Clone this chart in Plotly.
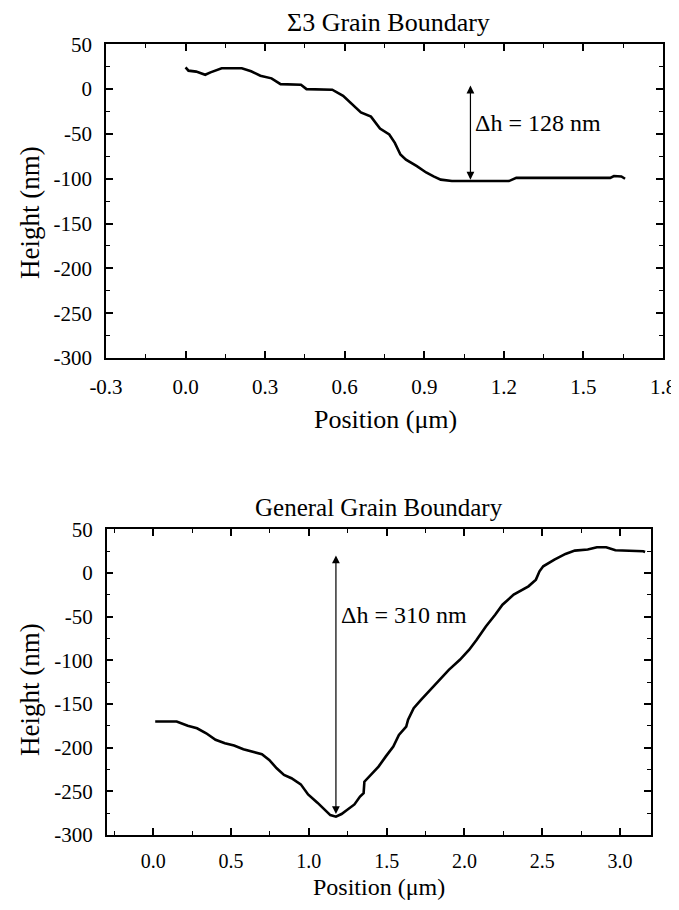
import plotly.graph_objects as go

# ---- Data: Sigma3 grain boundary profile ----
s3_pos = [0.000, 0.011, 0.040, 0.074, 0.094, 0.136, 0.212, 0.247, 0.282, 0.324,
          0.358, 0.435, 0.456, 0.553, 0.594, 0.636, 0.661, 0.699, 0.733, 0.768,
          0.789, 0.810, 0.831, 0.872, 0.907, 0.935, 0.962, 1.004, 1.219, 1.247,
          1.601, 1.615, 1.643, 1.657]
s3_height = [24.3, 20.6, 19.5, 16.0, 18.7, 23.2, 23.2, 19.9, 15.0, 12.0,
             5.6, 4.9, 0.0, -0.7, -7.5, -18.7, -26.0, -30.7, -44.0, -50.6,
             -60.0, -73.0, -78.7, -86.0, -93.0, -97.4, -101.0, -102.6, -102.6, -99.0,
             -99.0, -97.0, -97.4, -100.0]

# ---- Data: general grain boundary profile ----
gen_pos = [0.012, 0.150, 0.221, 0.281, 0.340, 0.400, 0.460, 0.519, 0.579, 0.650,
           0.698, 0.745, 0.793, 0.840, 0.888, 0.948, 0.995, 1.055, 1.102, 1.138,
           1.174, 1.210, 1.245, 1.293, 1.329, 1.352, 1.357, 1.400, 1.448, 1.495,
           1.543, 1.579, 1.626, 1.638, 1.674, 1.721, 1.793, 1.840, 1.900, 1.971,
           2.031, 2.079, 2.138, 2.198, 2.245, 2.317, 2.412, 2.460, 2.483, 2.507,
           2.579, 2.650, 2.710, 2.793, 2.852, 2.912, 2.971, 3.150, 3.162]
gen_height = [-170.1, -170.0, -175.0, -177.8, -183.5, -191.0, -195.0, -197.6, -201.9, -205.7,
              -207.6, -214.0, -223.6, -231.3, -235.0, -242.0, -253.5, -263.0, -270.7, -277.2,
              -279.0, -276.0, -271.4, -265.0, -256.0, -252.0, -239.0, -231.0, -221.7, -210.0,
              -198.8, -185.4, -175.9, -168.0, -154.8, -145.3, -131.9, -122.3, -110.9, -99.4,
              -87.9, -76.5, -61.2, -47.8, -36.3, -24.8, -15.3, -7.6, 1.9, 7.6,
              15.3, 21.8, 25.6, 26.8, 29.4, 29.4, 26.0, 24.9, 24.1]

# tick labels
y_tickvals = [50, 0, -50, -100, -150, -200, -250, -300]
y_ticktext = ["50", "0", "-50", "-100", "-150", "-200", "-250", "-300"]
x1_tickvals = [-0.3, 0.0, 0.3, 0.6, 0.9, 1.2, 1.5, 1.8]
x1_ticktext = ["-0.3", "0.0", "0.3", "0.6", "0.9", "1.2", "1.5", "1.8"]
x2_tickvals = [0.0, 0.5, 1.0, 1.5, 2.0, 2.5, 3.0]
x2_ticktext = ["0.0", "0.5", "1.0", "1.5", "2.0", "2.5", "3.0"]

# annotations (step heights)
s3_arrow_x, s3_arrow_top, s3_arrow_bot = 1.074, 5.6, -101.0
s3_label = "\u0394h = 128 nm"
gen_arrow_x, gen_arrow_top, gen_arrow_bot = 1.174, 21.8, -276.0
gen_label = "\u0394h = 310 nm"

titles = ["\u03a33 Grain Boundary", "General Grain Boundary"]
x_title = "Position (\u03bcm)"
y_title = "Height (nm)"

FONT = "Liberation Serif, Times New Roman, serif"
# the page body has an 8px default margin: figure is drawn from (8, 8)
OX, OY = 8, 8
W, H = 671, 894

fig = go.Figure()
fig.add_trace(go.Scatter(x=s3_pos, y=s3_height, mode="lines",
                         line=dict(color="black", width=2.6),
                         xaxis="x", yaxis="y", showlegend=False))
fig.add_trace(go.Scatter(x=gen_pos, y=gen_height, mode="lines",
                         line=dict(color="black", width=2.6),
                         xaxis="x2", yaxis="y2", showlegend=False))

def px_x(p):
    return (p - OX) / W

def px_y(p):
    return 1 - (p - OY) / H

axis_common = dict(showline=True, linecolor="black", linewidth=1.5, mirror="allticks",
                   ticks="inside", ticklen=7, tickwidth=1.5, tickcolor="black",
                   showgrid=False, zeroline=False, automargin=False)

def tfont(size):
    return dict(family=FONT, size=size, color="black")

def minor(dt, t0):
    return dict(ticks="inside", ticklen=4, tickwidth=1.2, tickcolor="black", dtick=dt, tick0=t0,
                showgrid=False)

fig.update_layout(
    template="none",
    width=W, height=H, margin=dict(l=0, r=0, t=0, b=0, autoexpand=False),
    paper_bgcolor="white", plot_bgcolor="white",
    font=dict(family=FONT, color="black"),
    xaxis=dict(domain=[px_x(106), px_x(663)], range=[-0.3, 1.8], anchor="y",
               tickmode="array", tickvals=x1_tickvals, ticktext=x1_ticktext,
               minor=minor(0.15, -0.3), ticklabelstandoff=9, tickfont=tfont(21), **axis_common),
    yaxis=dict(domain=[px_y(358), px_y(44.3)], range=[-300, 50], anchor="x",
               tickmode="array", tickvals=y_tickvals, ticktext=y_ticktext,
               minor=minor(25, -300), ticklabelstandoff=8, tickfont=tfont(21), **axis_common),
    xaxis2=dict(domain=[px_x(106.7), px_x(651)], range=[-0.3, 3.2], anchor="y2",
                tickmode="array", tickvals=x2_tickvals, ticktext=x2_ticktext,
                minor=minor(0.25, 0), ticklabelstandoff=7, tickfont=tfont(20), **axis_common),
    yaxis2=dict(domain=[px_y(835), px_y(529.3)], range=[-300, 50], anchor="x2",
                tickmode="array", tickvals=y_tickvals, ticktext=y_ticktext,
                minor=minor(25, -300), ticklabelstandoff=8, tickfont=tfont(21), **axis_common),
)

anns = []
# titles
anns.append(dict(text=titles[0], x=px_x(388), y=px_y(22), xref="paper", yref="paper",
                 showarrow=False, font=dict(family=FONT, size=26), xanchor="center", yanchor="middle"))
anns.append(dict(text=titles[1], x=px_x(379), y=px_y(507), xref="paper", yref="paper",
                 showarrow=False, font=dict(family=FONT, size=25), xanchor="center", yanchor="middle"))
# x titles
anns.append(dict(text=x_title, x=px_x(385), y=px_y(419), xref="paper", yref="paper",
                 showarrow=False, font=dict(family=FONT, size=26), xanchor="center", yanchor="middle"))
anns.append(dict(text=x_title, x=px_x(379), y=px_y(902), xref="paper", yref="paper",
                 showarrow=False, font=dict(family=FONT, size=24), xanchor="center", yanchor="bottom"))
# y titles
anns.append(dict(text=y_title, x=px_x(30), y=px_y(213), xref="paper", yref="paper", textangle=-90,
                 showarrow=False, font=dict(family=FONT, size=27), xanchor="center", yanchor="middle"))
anns.append(dict(text=y_title, x=px_x(30), y=px_y(690), xref="paper", yref="paper", textangle=-90,
                 showarrow=False, font=dict(family=FONT, size=27), xanchor="center", yanchor="middle"))

# double-headed arrows
for xr, yr, ax_, top, bot, lab, ly in [("x", "y", s3_arrow_x, s3_arrow_top, s3_arrow_bot, s3_label, -37.5),
                                       ("x2", "y2", gen_arrow_x, gen_arrow_top, gen_arrow_bot, gen_label, -47.8)]:
    anns.append(dict(x=ax_, y=bot, ax=ax_, ay=top, xref=xr, yref=yr, axref=xr, ayref=yr,
                     text="", showarrow=True, arrowhead=2, startarrowhead=2, arrowside="end+start",
                     arrowsize=1.3, startarrowsize=1.3, arrowwidth=1.2, arrowcolor="black",
                     standoff=0, startstandoff=0))
    anns.append(dict(x=ax_, y=ly, xref=xr, yref=yr, text=lab, showarrow=False,
                     xanchor="left", yanchor="middle", xshift=3,
                     font=dict(family=FONT, size=24, color="black")))

fig.update_layout(annotations=anns)
fig.write_html("out.html")
